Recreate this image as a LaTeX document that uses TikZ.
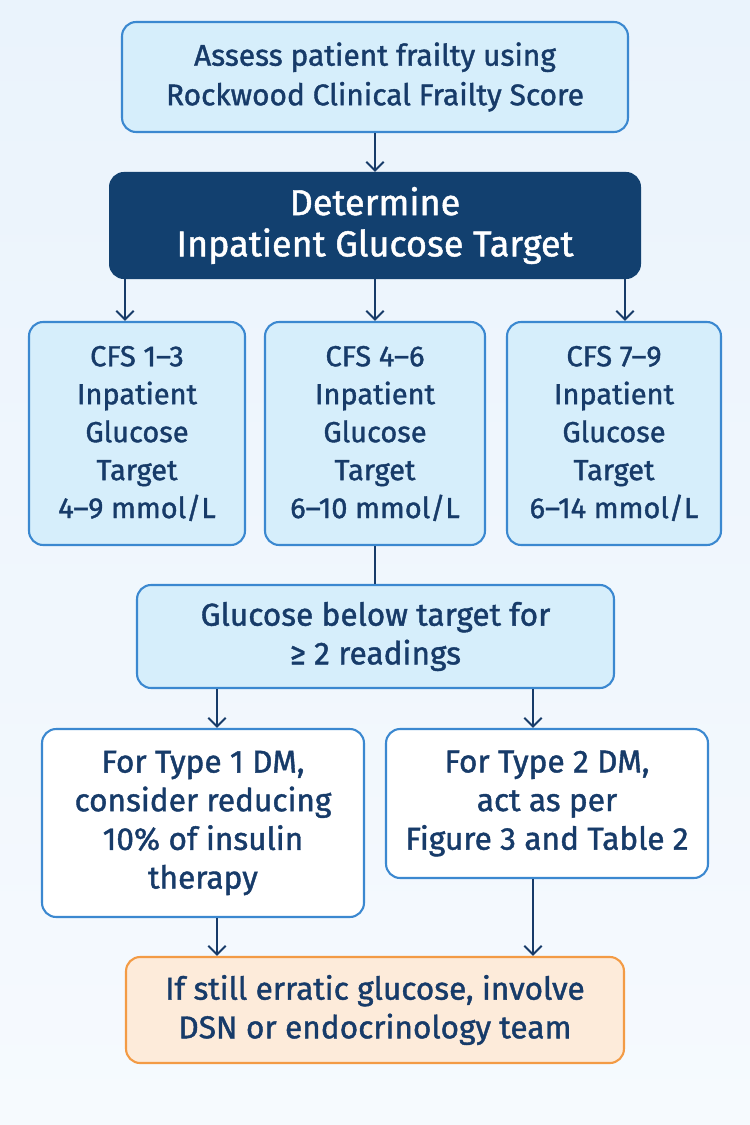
\documentclass[tikz,border=0pt]{standalone}
\usepackage{fontspec}
\setmainfont{Fira Sans}[FakeBold=1.3]
\usetikzlibrary{arrows.meta}

\definecolor{bgtop}{HTML}{EAF3FC}
\definecolor{bgbot}{HTML}{F6FAFE}
\definecolor{boxfill}{HTML}{D6EEFB}
\definecolor{boxline}{HTML}{3B88D0}
\definecolor{navy}{HTML}{12406F}
\definecolor{txt}{HTML}{173B69}
\definecolor{orfill}{HTML}{FDEBDA}
\definecolor{orline}{HTML}{F39B45}

\tikzset{
  box/.style={draw=boxline, line width=1.2pt, fill=boxfill, rounded corners=8pt,
    align=center, text=txt, inner sep=0pt, font=\fontsize{18}{22}\selectfont},
  whitebox/.style={box, fill=white},
  darkbox/.style={box, draw=navy, fill=navy, text=white, font=\fontsize{20.5}{23.5}\selectfont},
  endbox/.style={box, draw=orline, fill=orfill},
  arr/.style={-{Straight Barb[length=5pt,width=10pt]}, draw=txt, line width=1.1pt},
}

\begin{document}
\begin{tikzpicture}[x=0.02cm,y=-0.02cm]
  % background
  \useasboundingbox (0,0) rectangle (750,1125);
  \fill[top color=bgtop, bottom color=bgbot] (0,0) rectangle (750,1125);

  % frailty
  \node[box, font=\fontsize{17}{22.5}\selectfont, minimum width=10.12cm, minimum height=2.2cm] (frail) at (375,77)
    {Assess patient frailty using\\Rockwood Clinical Frailty Score};
  \node[darkbox, minimum width=10.6cm, minimum height=2.1cm] (target) at (375,225.5)
    {Determine\\Inpatient Glucose Target};

  % CFS groups
  \node[box, font=\fontsize{16.5}{21.6}\selectfont, minimum width=4.32cm, minimum height=4.46cm] (cfsA) at (137,433.5)
    {CFS 1--3\\Inpatient\\Glucose\\Target\\4--9 mmol/L};
  \node[box, font=\fontsize{16.5}{21.6}\selectfont, minimum width=4.4cm, minimum height=4.46cm] (cfsB) at (375,433.5)
    {CFS 4--6\\Inpatient\\Glucose\\Target\\6--10 mmol/L};
  \node[box, font=\fontsize{16.5}{21.6}\selectfont, minimum width=4.28cm, minimum height=4.46cm] (cfsC) at (614,433.5)
    {CFS 7--9\\Inpatient\\Glucose\\Target\\6--14 mmol/L};

  % hypo
  \node[box, minimum width=9.54cm, minimum height=2.06cm] (low) at (375.5,636.5)
    {Glucose below target for\\≥ 2 readings};
  \node[whitebox, minimum width=6.44cm, minimum height=3.76cm] (typeA) at (203,823)
    {For Type 1 DM,\\consider reducing\\10\% of insulin\\therapy};
  \node[whitebox, minimum width=6.44cm, minimum height=2.98cm] (typeB) at (547,803.5)
    {For Type 2 DM,\\act as per\\Figure 3 and Table 2};

  % escalate
  \node[endbox, minimum width=9.96cm, minimum height=2.12cm] (team) at (375,1010)
    {If still erratic glucose, involve\\DSN or endocrinology team};

  % connectors
  \draw[arr] (frail) -- (target);
  \draw[arr] ([xshift=-0.24cm]target.south -| cfsA.north) -- ([xshift=-0.24cm]cfsA.north);
  \draw[arr] (target.south -| cfsB.north) -- (cfsB.north);
  \draw[arr] ([xshift=0.22cm]target.south -| cfsC.north) -- ([xshift=0.22cm]cfsC.north);
  \draw[draw=txt, line width=1.1pt] (cfsB.south) -- (low.north -| cfsB.south);
  \draw[arr] ([xshift=0.28cm]low.south -| typeA.north) -- ([xshift=0.28cm]typeA.north);
  \draw[arr] ([xshift=-0.28cm]low.south -| typeB.north) -- ([xshift=-0.28cm]typeB.north);
  \draw[arr] ([xshift=0.28cm]typeA.south) -- ([xshift=0.28cm]team.north -| typeA.south);
  \draw[arr] ([xshift=-0.28cm]typeB.south) -- ([xshift=-0.28cm]team.north -| typeB.south);
\end{tikzpicture}
\end{document}
